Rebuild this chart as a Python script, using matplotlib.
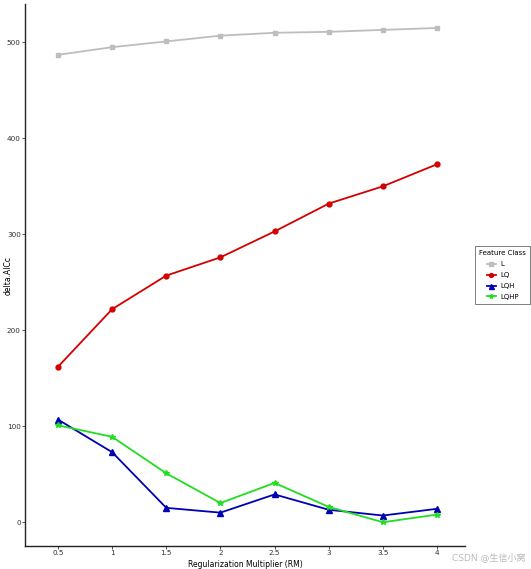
import numpy as np
import matplotlib.pyplot as plt

plt.rcParams['font.family'] = ['DejaVu Sans', 'Noto Sans CJK SC']

rm = [0.5, 1, 1.5, 2, 2.5, 3, 3.5, 4]
L = [487, 495, 501, 507, 510, 511, 513, 515]
LQ = [162, 222, 257, 276, 303, 332, 350, 373]
LQH = [107, 73, 15, 10, 29, 13, 7, 14]
LQHP = [101, 89, 51, 20, 41, 16, 0, 8]

fig = plt.figure(figsize=(5.31, 5.69), dpi=100)
ax = fig.add_axes([0.047, 0.040, 0.829, 0.953])

ax.plot(rm, L, color='#bdbdbd', marker='s', markersize=3.5, lw=1.3, label='L')
ax.plot(rm, LQ, color='#d40000', marker='o', markersize=3.5, lw=1.3, label='LQ')
ax.plot(rm, LQH, color='#0000b4', marker='^', markersize=4.5, lw=1.3, label='LQH')
ax.plot(rm, LQHP, color='#22dd22', marker='*', markersize=4, lw=1.3, label='LQHP')

ax.set_xlim(0.195, 4.26)
ax.set_ylim(-25, 540)
ax.set_xticks(rm)
ax.set_xticklabels(['0.5', '1', '1.5', '2', '2.5', '3', '3.5', '4'])
ax.set_yticks([0, 100, 200, 300, 400, 500])
ax.tick_params(labelsize=5.2, length=2, width=0.6, colors='#333333', pad=1)

for s in ['top', 'right']:
    ax.spines[s].set_visible(False)
for s in ['left', 'bottom']:
    ax.spines[s].set_color('#222222')
    ax.spines[s].set_linewidth(1)

ax.set_xlabel('Regularization Multiplier (RM)', fontsize=5.5, va='center')
ax.xaxis.set_label_coords(0.5, -0.033)
ax.set_ylabel('delta.AICc', fontsize=5.5)
ax.yaxis.set_label_coords(-0.028, 0.5)

leg = ax.legend(title='Feature Class', fontsize=5, title_fontsize=5,
                loc='center left', bbox_to_anchor=(1.015, 0.5),
                frameon=True, fancybox=False, edgecolor='#444444',
                handlelength=1.3, markerscale=0.8, labelspacing=0.7,
                borderpad=0.6, handletextpad=0.6)
leg.get_frame().set_linewidth(0.6)

fig.text(0.99, 0.012, 'CSDN @生信小窝', fontsize=6.5, color='#bbbbbb',
         ha='right', va='bottom', family=['DejaVu Sans', 'Noto Sans CJK SC'])

fig.savefig('out.png', dpi=100)
